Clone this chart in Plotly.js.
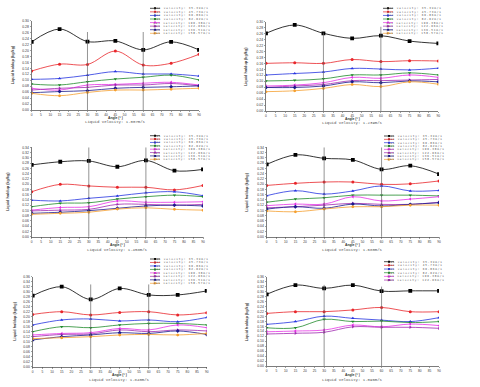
<!DOCTYPE html>
<html><head><meta charset="utf-8">
<script src="https://cdn.plot.ly/plotly-3.0.1.min.js"></script>
<style>
html,body{margin:0;padding:0;background:#fff}
#chart{width:480px;height:387px}
#chart text[style*="DejaVu Sans Mono"]{letter-spacing:0.85px}
</style>
</head><body><div id="chart"></div>
<script>
const angles = [0, 15, 30, 45, 60, 75, 90];
const gasVelocityLabels = ["gas velocity: 35.39m/s", "gas velocity: 45.73m/s", "gas velocity: 60.86m/s", "gas velocity: 82.02m/s",
  "gas velocity: 100.38m/s", "gas velocity: 122.06m/s", "gas velocity: 136.51m/s", "gas velocity: 158.57m/s"];
const liquidVelocityLabels = ["Liquid velocity: 1.007m/s", "Liquid velocity: 1.239m/s", "Liquid velocity: 1.458m/s",
  "Liquid velocity: 1.680m/s", "Liquid velocity: 1.840m/s", "Liquid velocity: 1.096m/s"];

const holdup1 = [
  [0.229, 0.272, 0.230, 0.232, 0.202, 0.229, 0.202],
  [0.131, 0.154, 0.153, 0.198, 0.151, 0.157, 0.187],
  [0.103, 0.106, 0.117, 0.129, 0.121, 0.121, 0.114],
  [0.087, 0.084, 0.095, 0.104, 0.110, 0.117, 0.101],
  [0.073, 0.067, 0.084, 0.086, 0.090, 0.093, 0.084],
  [0.067, 0.073, 0.076, 0.084, 0.084, 0.089, 0.081],
  [0.058, 0.062, 0.065, 0.073, 0.076, 0.078, 0.081],
  [0.056, 0.048, 0.059, 0.067, 0.067, 0.070, 0.073]
];
const holdup2 = [
  [0.261, 0.289, 0.261, 0.244, 0.253, 0.235, 0.227],
  [0.160, 0.162, 0.160, 0.173, 0.166, 0.169, 0.168],
  [0.121, 0.126, 0.131, 0.143, 0.141, 0.138, 0.144],
  [0.101, 0.103, 0.108, 0.121, 0.121, 0.128, 0.121],
  [0.084, 0.087, 0.095, 0.113, 0.110, 0.121, 0.113],
  [0.079, 0.084, 0.089, 0.102, 0.102, 0.104, 0.106],
  [0.079, 0.079, 0.084, 0.098, 0.095, 0.101, 0.098],
  [0.065, 0.068, 0.076, 0.089, 0.082, 0.098, 0.090]
];
const holdup3 = [
  [0.273, 0.285, 0.288, 0.266, 0.290, 0.251, 0.256],
  [0.171, 0.199, 0.193, 0.188, 0.188, 0.178, 0.195],
  [0.139, 0.136, 0.146, 0.155, 0.167, 0.171, 0.156],
  [0.114, 0.127, 0.129, 0.143, 0.152, 0.158, 0.152],
  [0.101, 0.111, 0.114, 0.136, 0.131, 0.131, 0.133],
  [0.098, 0.101, 0.104, 0.123, 0.123, 0.120, 0.123],
  [0.089, 0.093, 0.099, 0.108, 0.117, 0.120, 0.117],
  [0.085, 0.089, 0.093, 0.105, 0.110, 0.104, 0.101]
];
const holdup4 = [
  [0.275, 0.311, 0.298, 0.292, 0.256, 0.270, 0.238],
  [0.195, 0.203, 0.208, 0.208, 0.199, 0.201, 0.212],
  [0.156, 0.175, 0.162, 0.174, 0.193, 0.174, 0.176],
  [0.131, 0.143, 0.148, 0.158, 0.158, 0.158, 0.155],
  [0.118, 0.124, 0.124, 0.152, 0.136, 0.143, 0.152],
  [0.110, 0.114, 0.120, 0.127, 0.123, 0.123, 0.131],
  [0.105, 0.114, 0.108, 0.124, 0.117, 0.123, 0.129],
  [0.098, 0.095, 0.105, 0.114, 0.114, 0.120, 0.120]
];
const holdup5 = [
  [0.284, 0.320, 0.269, 0.313, 0.287, 0.287, 0.303],
  [0.209, 0.220, 0.207, 0.217, 0.220, 0.207, 0.216],
  [0.167, 0.187, 0.191, 0.183, 0.187, 0.180, 0.197],
  [0.140, 0.160, 0.156, 0.167, 0.173, 0.173, 0.167],
  [0.127, 0.133, 0.136, 0.153, 0.147, 0.167, 0.156],
  [0.120, 0.129, 0.131, 0.147, 0.140, 0.147, 0.143],
  [0.107, 0.120, 0.127, 0.136, 0.133, 0.143, 0.129],
  [0.112, 0.116, 0.120, 0.127, 0.129, 0.127, 0.133]
];
const holdup6 = [
  [0.289, 0.326, 0.313, 0.326, 0.302, 0.303, 0.303],
  [0.212, 0.219, 0.219, 0.226, 0.236, 0.219, 0.219],
  [0.168, 0.179, 0.201, 0.192, 0.185, 0.179, 0.195],
  [0.154, 0.154, 0.188, 0.179, 0.181, 0.175, 0.179],
  [0.138, 0.141, 0.145, 0.165, 0.158, 0.169, 0.163],
  [0.129, 0.132, 0.136, 0.158, 0.156, 0.156, 0.152]
];

const seriesColors = ["#000000", "#e8262b", "#2533e0", "#1f8a2a", "#e632e6", "#a02ab0", "#1a1a8c", "#f5a030"];
const seriesSymbols = ["square", "circle", "triangle-up", "triangle-down", "triangle-left", "triangle-right", "diamond", "hexagon"];

const W = 480, H = 387;
const panels = [
  {data: holdup1, ymax: 0.30, x0: 31.7, x1: 199, top: 20.7, bottom: 110, legX: 150, legY: 8.3, legDy: 3.57, capY: 122.5, angY: 117.6, ytX: 13, vl: [0.262, 0.262]},
  {data: holdup2, ymax: 0.30, x0: 266, x1: 438.3, top: 21.7, bottom: 111, legX: 383, legY: 8.3, legDy: 3.57, capY: 123.3, angY: 118.5, ytX: 246.7, vl: [0.263, 0.283]},
  {data: holdup3, ymax: 0.34, x0: 31.7, x1: 203, top: 147.3, bottom: 236.7, legX: 150, legY: 135.7, legDy: 3.37, capY: 250, angY: 245, ytX: 8, vl: [0.34, 0.34]},
  {data: holdup4, ymax: 0.34, x0: 266.7, x1: 439, top: 147.3, bottom: 236.7, legX: 384, legY: 136, legDy: 3.34, capY: 250, angY: 245, ytX: 246.7, vl: [0.34, 0.34]},
  {data: holdup5, ymax: 0.36, x0: 32.7, x1: 206.7, top: 276.7, bottom: 366.7, legX: 150, legY: 259, legDy: 3.47, capY: 380, angY: 375, ytX: 15, vl: [0.329, 0.329]},
  {data: holdup6, ymax: 0.36, x0: 266.7, x1: 439, top: 276.7, bottom: 366, legX: 384, legY: 261.7, legDy: 3.67, capY: 379.5, angY: 374.5, ytX: 247, vl: [0.327, 0.32]}
];

const traces = [];
const layout = {
  width: W, height: H, margin: {l: 0, r: 0, t: 0, b: 0},
  paper_bgcolor: "#ffffff", plot_bgcolor: "#ffffff", showlegend: false,
  font: {family: "Liberation Sans, Arial, sans-serif", color: "#333"},
  annotations: [], shapes: []
};

panels.forEach((p, k) => {
  const s = k === 0 ? "" : String(k + 1);
  const xa = "x" + s, ya = "y" + s;
  p.data.forEach((vals, i) => {
    traces.push({
      type: "scatter", mode: "lines+markers", x: angles, y: vals, xaxis: xa, yaxis: ya,
      name: gasVelocityLabels[i],
      line: {color: seriesColors[i], width: 0.8, shape: "spline", smoothing: 1},
      marker: {color: seriesColors[i], symbol: seriesSymbols[i], size: i === 0 ? 3.8 : 3}
    });
  });
  layout["xaxis" + s] = {
    domain: [p.x0 / W, p.x1 / W], range: [0, 90], tick0: 0, dtick: 5, anchor: ya,
    showline: true, linecolor: "#444", linewidth: 0.7, ticks: "outside", ticklen: 1.5, tickwidth: 0.5, tickcolor: "#444",
    showgrid: false, zeroline: false, tickfont: {size: 3.2, color: "#333"}, fixedrange: true
  };
  layout["yaxis" + s] = {
    domain: [1 - p.bottom / H, 1 - p.top / H], range: [0, p.ymax], tick0: 0, dtick: 0.02, tickformat: ".2f", anchor: xa,
    showline: true, linecolor: "#444", linewidth: 0.7, ticks: "outside", ticklen: 1.5, tickwidth: 0.5, tickcolor: "#444",
    showgrid: false, zeroline: false, tickfont: {size: 3.4, color: "#333"}, fixedrange: true
  };
  [30, 60].forEach((a, j) => {
    layout.shapes.push({type: "line", xref: xa, yref: ya, x0: a, x1: a, y0: -p.ymax * 0.03, y1: p.vl[j],
      line: {color: "#666", width: 0.7}});
  });
  const cx = (p.x0 + p.x1) / 2 / W;
  layout.annotations.push({xref: "paper", yref: "paper", x: cx, y: 1 - p.angY / H, text: "<b>Angle (° )</b>",
    showarrow: false, borderpad: 0, font: {size: 3.4, color: "#333"}, xanchor: "center", yanchor: "middle"});
  layout.annotations.push({xref: "paper", yref: "paper", x: cx, y: 1 - p.capY / H, text: liquidVelocityLabels[k],
    showarrow: false, borderpad: 0, font: {size: 4, color: "#555", family: "Liberation Mono, monospace"}, xanchor: "center", yanchor: "middle"});
  layout.annotations.push({xref: "paper", yref: "paper", x: p.ytX / W, y: 1 - (p.top + p.bottom) / 2 / H,
    text: "<b>Liquid holdup (kg/kg)</b>", textangle: -90, borderpad: 0,
    showarrow: false, font: {size: 3.8, color: "#333"}, xanchor: "center", yanchor: "middle"});
  p.data.forEach((vals, i) => {
    const yy = 1 - (p.legY + i * p.legDy) / H;
    layout.shapes.push({type: "line", xref: "paper", yref: "paper", x0: p.legX / W, x1: (p.legX + 10) / W, y0: yy, y1: yy,
      line: {color: seriesColors[i], width: 0.7}});
    layout.shapes.push({type: "rect", xref: "paper", yref: "paper", x0: (p.legX + 4) / W, x1: (p.legX + 6) / W,
      y0: yy - 1 / H, y1: yy + 1 / H, fillcolor: seriesColors[i], line: {width: 0}});
    layout.annotations.push({xref: "paper", yref: "paper", x: (p.legX + 12) / W, y: yy, text: gasVelocityLabels[i],
      showarrow: false, borderpad: 0, xanchor: "left", yanchor: "middle",
      font: {size: 2.75, color: "#555", family: "DejaVu Sans Mono, monospace"}});
  });
});

Plotly.newPlot("chart", traces, layout, {staticPlot: true, displayModeBar: false});
</script>
</body></html>
